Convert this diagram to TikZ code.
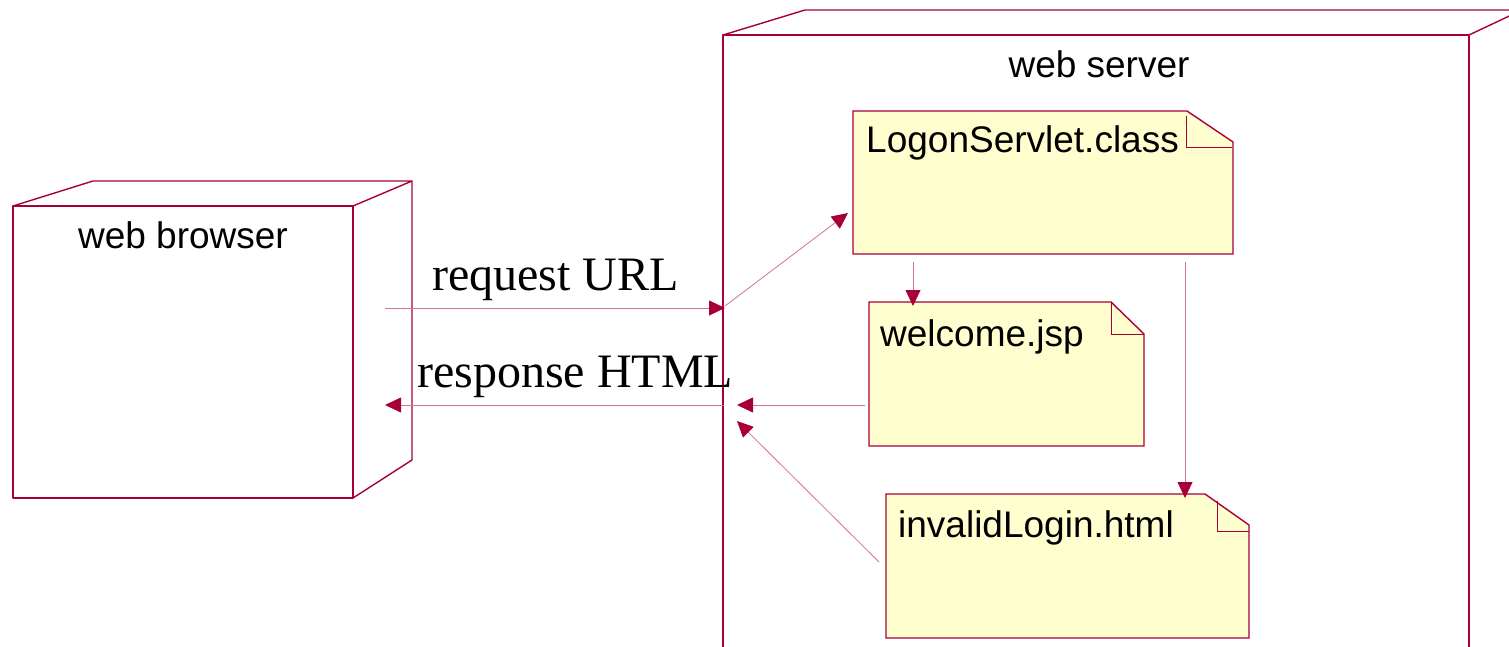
\documentclass[tikz,border=0pt]{standalone}
\usepackage{fontspec}
\setmainfont{Liberation Sans}
\newfontfamily\seriffont{Liberation Serif}
\usetikzlibrary{arrows.meta}
\definecolor{umlred}{HTML}{A80036}
\definecolor{notefill}{HTML}{FEFECE}
\begin{document}
\begin{tikzpicture}[x=1pt,y=-1pt,
  border/.style={draw=umlred, line width=1.4pt, line join=round},
  foldline/.style={draw=umlred, line width=1pt},
  notebg/.style={fill=notefill, draw=umlred, line width=1.4pt, line join=miter},
  conn/.style={draw=umlred!55, line width=0.8pt, -{Triangle[length=16pt,width=15pt,color=umlred]}},
  area/.style={draw=none, inner sep=0pt, outer sep=0pt},
  sanslabel/.style={inner sep=0pt, font=\fontsize{37}{40}\selectfont},
  seriflabel/.style={inner sep=0pt, font=\seriffont\fontsize{48}{52}\selectfont}]
\useasboundingbox (0,0) rectangle (1509,647);
\clip (0,0) rectangle (1509,647);

% ---------- web browser node (3D box) ----------
\node[area, minimum width=340pt, minimum height=292pt] (browser) at (183,352) {};
\draw[border] (browser.north west) rectangle (browser.south east);
\draw[border] (browser.north west) -- (93,181) -- (412,181) -- (browser.north east);
\draw[border] (412,181) -- (412,460) -- (browser.south east);
\node[sanslabel, anchor=base] (browserlbl) at (183,248) {web browser};

% ---------- web server node (3D box) ----------
\node[area, minimum width=746pt, minimum height=640pt] (server) at (1096,355) {};
\draw[border] (server.north west) rectangle (server.south east);
\draw[border] (server.north west) -- (805,10) -- (1522,10) -- (server.north east);
\draw[border] (1522,10) -- (1522,680);
\node[sanslabel, anchor=base] (serverlbl) at (1099,78) {web server};

% ---------- LogonServlet.class note ----------
\node[area, minimum width=380pt, minimum height=143pt] (logon) at (1043,182.5) {};
\draw[notebg] (853,111) -- (1187,111) -- (1233,142) -- (1233,254) -- (853,254) -- cycle;
\draw[foldline] (1186,116) -- (1186,148) -- (1232,148);
\node[sanslabel, anchor=base west] (logonlbl) at (866,153) {LogonServlet.class};

% ---------- welcome.jsp note ----------
\node[area, minimum width=275pt, minimum height=144pt] (welcome) at (1006.5,374) {};
\draw[notebg] (869,302) -- (1111,302) -- (1144,334) -- (1144,446) -- (869,446) -- cycle;
\draw[foldline] (1111,302) -- (1111,334) -- (1144,334);
\node[sanslabel, anchor=base west] (welcomelbl) at (880,346) {welcome.jsp};

% ---------- invalidLogin.html note ----------
\node[area, minimum width=363pt, minimum height=144pt] (invalid) at (1067.5,566) {};
\draw[notebg] (886,494) -- (1205,494) -- (1249,525) -- (1249,638) -- (886,638) -- cycle;
\draw[foldline] (1217,501) -- (1217,531) -- (1249,531);
\node[sanslabel, anchor=base west] (invalidlbl) at (898,537) {invalidLogin.html};

% ---------- connector end points ----------
\coordinate (reqStart) at (385,308);
\coordinate (reqEnd)   at (725,308);
\coordinate (fwdStart) at (725,306);
\coordinate (fwdEnd)   at (848,213);
\coordinate (lwStart)  at (913,262);
\coordinate (lwEnd)    at (913,306);
\coordinate (liStart)  at (1185,262);
\coordinate (liEnd)    at (1185,498);
\coordinate (wsStart)  at (865,405);
\coordinate (wsEnd)    at (737,405);
\coordinate (isStart)  at (879,562);
\coordinate (isEnd)    at (737,421);
\coordinate (resStart) at (724,405);
\coordinate (resEnd)   at (385,405);

% ---------- connectors ----------
\draw[conn] (reqStart) -- (reqEnd);
\draw[conn] (fwdStart) -- (fwdEnd);
\draw[conn] (lwStart) -- (lwEnd);
\draw[conn] (liStart) -- (liEnd);
\draw[conn] (wsStart) -- (wsEnd);
\draw[conn] (isStart) -- (isEnd);
\draw[conn] (resStart) -- (resEnd);

% ---------- connector labels ----------
\node[seriflabel, anchor=base west] (reqlbl) at (432,290) {request URL};
\node[seriflabel, anchor=base west] (reslbl) at (417,387) {response HTML};
\end{tikzpicture}
\end{document}
